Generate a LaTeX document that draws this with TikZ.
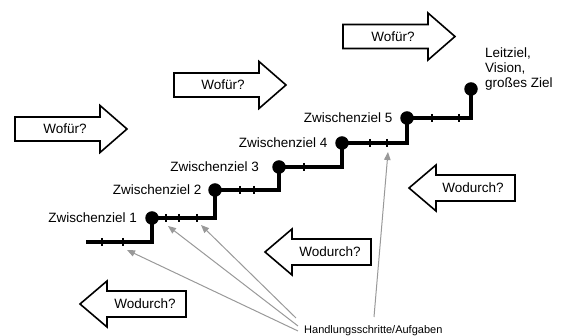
\documentclass[tikz,border=0pt]{standalone}
\usepackage{fontspec}
\setmainfont{Liberation Sans}
\usetikzlibrary{arrows.meta,positioning}
\begin{document}
\begin{tikzpicture}[x=1pt,y=-1pt,
  blk/.style={draw=black, line width=1.6pt, fill=white, line join=miter},
  rarr/.pic={\draw[blk] (0,-12) -- (85,-12) -- (85,-23.5) -- (112,0) -- (85,23.5) -- (85,12) -- (0,12) -- cycle;},
  larr/.pic={\draw[blk] (0,0) -- (27,-23) -- (27,-13) -- (106,-13) -- (106,13) -- (27,13) -- (27,23) -- cycle;},
  qtext/.style={font=\fontsize{13.5}{16}\selectfont, inner sep=0pt},
  lab/.style={font=\fontsize{13.5}{16}\selectfont, inner sep=0pt},
  stair/.style={line width=3.8pt, line join=miter},
  tick/.style={line width=1.8pt},
  dot/.style={circle, fill=black, inner sep=0pt, minimum size=13.5pt},
  pointer/.style={draw=black!40, line width=1pt, -{Triangle[length=8pt,width=6.5pt]}},
]
\useasboundingbox (0,0) rectangle (566,336);

% block arrows
\pic at (15,129) {rarr};
\pic at (174,85) {rarr};
\pic at (343,36.5) {rarr};
\pic at (409,188) {larr};
\pic at (265,252) {larr};
\pic at (80,304) {larr};
\node[qtext] (f1) at (65,129) {Wofür?};
\node[qtext] (f2) at (223,85) {Wofür?};
\node[qtext] (f3) at (393,36.5) {Wofür?};
\node[qtext] (d1t) at (473,188) {Wodurch?};
\node[qtext] (d2t) at (330,252) {Wodurch?};
\node[qtext] (d3t) at (145,304) {Wodurch?};

% staircase
\draw[stair] (86,242) -- (152,242) -- (152,218) -- (215,218) -- (215,190)
  -- (279,190) -- (279,167) -- (342,167) -- (342,143) -- (407,143)
  -- (407,118) -- (471,118) -- (471,89);
\foreach \x/\y in {102/242,123/242,166/218,179/218,197/218,240/190,254/190,
                   304/167,370/143,387/143,432/118,459/118}
  \draw[tick] (\x,\y-4) -- (\x,\y+4);
\node[dot] (z1) at (152,218) {};
\node[dot] (z2) at (215,190) {};
\node[dot] (z3) at (279,167) {};
\node[dot] (z4) at (342,143) {};
\node[dot] (z5) at (407,118) {};
\node[dot] (z6) at (471,89) {};

\node[lab, left=8pt of z1] (l1) {Zwischenziel 1};
\node[lab, left=6.5pt of z2] (l2) {Zwischenziel 2};
\node[lab, left=13pt of z3] (l3) {Zwischenziel 3};
\node[lab, left=7.5pt of z4] (l4) {Zwischenziel 4};
\node[lab, left=7.5pt of z5] (l5) {Zwischenziel 5};
\node[lab, anchor=base west, align=left, font=\fontsize{13.5}{15}\selectfont] (l6) at (485,88) {Leitziel,\\Vision,\\großes Ziel};

% pointers
\node[font=\fontsize{11}{13}\selectfont, inner sep=0pt, anchor=base west] (hs) at (304,334) {Handlungsschritte/Aufgaben};
\coordinate (s1) at (296,318);
\coordinate (s2) at (298,326);
\coordinate (s3) at (298,331);
\coordinate (s4) at (374,317);
\coordinate (t1) at (201,225);
\coordinate (t2) at (168,226);
\coordinate (t3) at (127,250);
\coordinate (t4) at (388,152);
\draw[pointer] (s1) -- (t1);
\draw[pointer] (s2) -- (t2);
\draw[pointer] (s3) -- (t3);
\draw[pointer] (s4) -- (t4);
\end{tikzpicture}
\end{document}
